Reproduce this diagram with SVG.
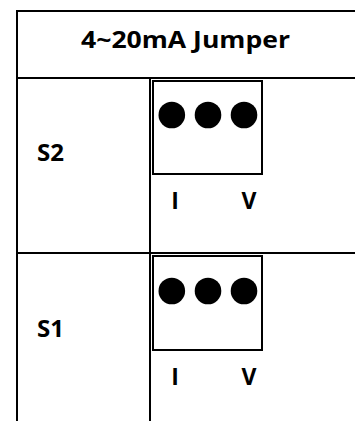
<svg xmlns="http://www.w3.org/2000/svg" width="355" height="421" viewBox="0 0 355 421">
<style>
.ln{stroke:#000;stroke-width:2;fill:none}
.t{font-family:"Open Sans","Noto Sans","Liberation Sans",sans-serif;font-weight:bold;font-size:23px;fill:#000}
.dot{fill:#000}
</style>
<rect width="355" height="421" fill="#fff"/>
<g id="connectors">
<line class="ln" x1="17" y1="10" x2="17" y2="421"/>
<line class="ln" x1="16" y1="11" x2="355" y2="11"/>
<line class="ln" x1="16" y1="78" x2="355" y2="78"/>
<line class="ln" x1="16" y1="253" x2="355" y2="253"/>
<line class="ln" x1="150" y1="78" x2="150" y2="421"/>
</g>
<g id="title">
<text class="t" x="81" y="47.5" textLength="209" lengthAdjust="spacingAndGlyphs">4~20mA Jumper</text>
</g>
<g id="s2">
<text class="t" x="37" y="161" textLength="27" lengthAdjust="spacingAndGlyphs">S2</text>
</g>
<g id="jumper-s2">
<rect class="ln" x="153" y="81" width="109" height="93"/>
<circle class="dot" cx="171.8" cy="115" r="13.3"/>
<circle class="dot" cx="208" cy="115" r="13.3"/>
<circle class="dot" cx="244" cy="115" r="13.3"/>
<text class="t" x="175" y="209" text-anchor="middle">I</text>
<text class="t" x="249" y="209" text-anchor="middle">V</text>
</g>
<g id="s1">
<text class="t" x="37" y="337" textLength="27" lengthAdjust="spacingAndGlyphs">S1</text>
</g>
<g id="jumper-s1">
<rect class="ln" x="153" y="256" width="109" height="94"/>
<circle class="dot" cx="171.8" cy="291" r="13.3"/>
<circle class="dot" cx="208" cy="291" r="13.3"/>
<circle class="dot" cx="244" cy="291" r="13.3"/>
<text class="t" x="175" y="385" text-anchor="middle">I</text>
<text class="t" x="249" y="385" text-anchor="middle">V</text>
</g>
</svg>
